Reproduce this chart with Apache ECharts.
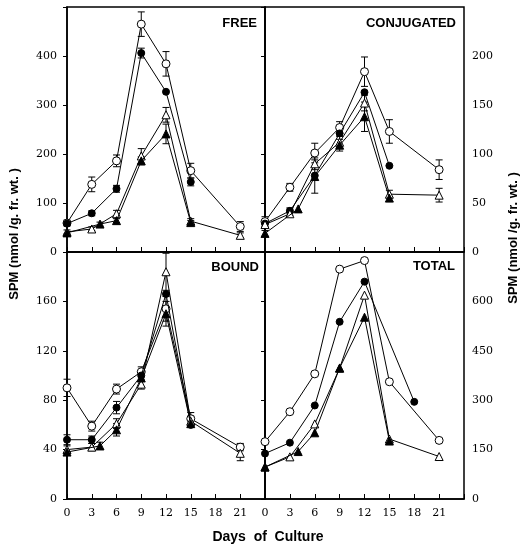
<!DOCTYPE html>
<html>
<head>
<meta charset="utf-8">
<script src="https://cdn.jsdelivr.net/npm/echarts@6/dist/echarts.min.js"></script>
<style>html,body{margin:0;padding:0;background:#fff}#c{width:529px;height:549px}</style>
</head>
<body>
<div id="c"></div>
<script>
// ---- data: [day, value, error] ----
const freeOpenCircle   = [[0,59,6],[3,138,15],[6,186,12],[9,465,25],[12,384,25],[15,166,15],[21,52,10]];
const freeFilledCircle = [[0,58,0],[3,79,5],[6,129,7],[9,406,10],[12,327,0],[15,143,8]];
const freeOpenTri      = [[0,41,4],[3,47,4],[6,78,7],[9,196,15],[12,280,15],[15,63,5],[21,34,5]];
const freeFilledTri    = [[0,39,0],[4,57,4],[6,64,4],[9,186,8],[12,241,20],[15,60,4]];

const conjOpenCircle   = [[0,31,5],[3,66,4],[6,101,10],[9,127,6],[12,184,15],[15,123,12],[21,84,10]];
const conjFilledCircle = [[0,29,0],[3,42,3],[6,78,0],[9,121,0],[12,163,0],[15,88,0]];
const conjOpenTri      = [[0,28,3],[3,39,2],[6,90,6],[9,112,6],[12,152,8],[15,59,4],[21,58,7]];
const conjFilledTri    = [[0,19,3],[4,44,0],[6,77,17],[9,109,6],[12,138,15],[15,55,0]];

const boundOpenCircle   = [[0,90,7],[3,59,4],[6,89,4],[9,103,4],[12,154,10],[15,65,5],[21,42,3]];
const boundFilledCircle = [[0,48,4],[3,48,3],[6,74,5],[9,100,0],[12,166,0],[15,60,0]];
const boundOpenTri      = [[0,40,3],[3,42,3],[6,61,4],[9,93,4],[12,184,15],[15,63,4],[21,37,6]];
const boundFilledTri    = [[0,38,0],[4,43,3],[6,56,5],[9,98,0],[12,150,10],[15,61,0]];

const totalOpenCircle   = [[0,174,0],[3,265,0],[6,380,0],[9,698,0],[12,724,0],[15,356,0],[21,178,0]];
const totalFilledCircle = [[0,138,0],[3,171,0],[6,284,0],[9,538,0],[12,660,0],[18,295,0]];
const totalOpenTri      = [[0,97,0],[3,128,0],[6,228,0],[9,397,0],[12,619,0],[15,182,0],[21,129,0]];
const totalFilledTri    = [[0,97,0],[4,144,0],[6,201,0],[9,398,0],[12,552,0],[15,176,0]];

const panelTitles = ['FREE', 'CONJUGATED', 'BOUND', 'TOTAL'];
const yMaxes = [500, 250, 200, 750];
const ySteps = [100, 50, 40, 150];
const xTitle = 'Days  of  Culture';
const yTitle = 'SPM (nmol /g. fr. wt. )';

const panels = [
  [freeOpenCircle, freeFilledCircle, freeOpenTri, freeFilledTri],
  [conjOpenCircle, conjFilledCircle, conjOpenTri, conjFilledTri],
  [boundOpenCircle, boundFilledCircle, boundOpenTri, boundFilledTri],
  [totalOpenCircle, totalFilledCircle, totalOpenTri, totalFilledTri]
];

const markerStyles = [
  {symbol:'circle', size:8, fill:'#fff'},
  {symbol:'circle', size:7, fill:'#000'},
  {symbol:'triangle', size:8, fill:'#fff'},
  {symbol:'triangle', size:8, fill:'#000'}
];

const grids = [
  {left:67, top:7, width:198, height:245},
  {left:265, top:7, width:199, height:245},
  {left:67, top:252, width:198, height:247},
  {left:265, top:252, width:199, height:247}
];

const tickFont = {fontFamily:'DejaVu Serif', fontSize:11, color:'#000'};

function renderErr(params, api) {
  const x = api.value(0), y = api.value(1), e = api.value(2);
  const hi = api.coord([x, y + e]);
  const lo = api.coord([x, y - e]);
  const w = 3.5;
  const st = {stroke:'#000', lineWidth:1};
  return {type:'group', children:[
    {type:'line', shape:{x1:hi[0], y1:hi[1], x2:lo[0], y2:lo[1]}, style:st},
    {type:'line', shape:{x1:hi[0]-w, y1:hi[1], x2:hi[0]+w, y2:hi[1]}, style:st},
    {type:'line', shape:{x1:lo[0]-w, y1:lo[1], x2:lo[0]+w, y2:lo[1]}, style:st}
  ]};
}

const xAxes = [], yAxes = [], series = [];
grids.forEach((g, i) => {
  xAxes.push({
    type:'value', gridIndex:i, min:0, max:24, interval:3,
    axisLine:{show:true, lineStyle:{color:'#000', width:1.5}},
    axisTick:{show:true, inside:true, length:5, lineStyle:{color:'#000', width:1}},
    axisLabel:{show:i >= 2, margin:9, ...tickFont, formatter:v => v === 24 ? '' : String(v)},
    splitLine:{show:false}
  });
  const right = (i % 2 === 1);
  const ymax = yMaxes[i];
  yAxes.push({
    type:'value', gridIndex:i, min:0, max:ymax, interval:ySteps[i],
    position: right ? 'right' : 'left',
    axisLine:{show:true, lineStyle:{color:'#000', width:1.5}},
    axisTick:{show:true, inside:right, length:4, lineStyle:{color:'#000', width:1}},
    axisLabel:{margin: right ? 8 : 10, ...tickFont, formatter:v => v === ymax ? '' : String(v)},
    splitLine:{show:false}
  });
});

panels.forEach((sets, i) => {
  sets.forEach((d, k) => {
    const errs = d.filter(p => p[2] > 0);
    if (errs.length) {
      series.push({
        type:'custom', xAxisIndex:i, yAxisIndex:i, silent:true, z:1,
        renderItem:renderErr, data:errs, encode:{x:0, y:1}
      });
    }
  });
  sets.forEach((d, k) => {
    const m = markerStyles[k];
    series.push({
      type:'line', xAxisIndex:i, yAxisIndex:i, silent:true, z:2 + k,
      data:d.map(p => [p[0], p[1]]),
      symbol:m.symbol, symbolSize:m.size, showAllSymbol:true,
      lineStyle:{color:'#000', width:1},
      itemStyle:{color:m.fill, borderColor:'#000', borderWidth:1},
      emphasis:{disabled:true}
    });
  });
});

const titlePos = [[257, 23], [456, 23], [259, 267], [455, 266]];
const graphics = panelTitles.map((t, i) => ({
  type:'text', x:titlePos[i][0], y:titlePos[i][1],
  style:{text:t, textAlign:'right', textVerticalAlign:'middle',
         fontFamily:'Liberation Sans', fontSize:13, fontWeight:'bold', fill:'#000'}
}));
graphics.push({
  type:'text', x:268, y:537,
  style:{text:xTitle, textAlign:'center', textVerticalAlign:'middle',
         fontFamily:'Liberation Sans', fontSize:14, fontWeight:'bold', fill:'#000'}
});
graphics.push({
  type:'text', x:14, y:234, rotation:Math.PI/2,
  style:{text:yTitle, textAlign:'center', textVerticalAlign:'middle',
         fontFamily:'Liberation Sans', fontSize:13, fontWeight:'bold', fill:'#000'}
});
graphics.push({
  type:'text', x:513, y:238, rotation:Math.PI/2,
  style:{text:yTitle, textAlign:'center', textVerticalAlign:'middle',
         fontFamily:'Liberation Sans', fontSize:13, fontWeight:'bold', fill:'#000'}
});

const chart = echarts.init(document.getElementById('c'), null, {renderer:'canvas'});
chart.setOption({
  animation:false,
  backgroundColor:'#fff',
  grid:grids.map(g => ({...g, show:true, borderColor:'#000', borderWidth:1.5, containLabel:false})),
  xAxis:xAxes,
  yAxis:yAxes,
  series:series,
  graphic:graphics
});
</script>
</body>
</html>
